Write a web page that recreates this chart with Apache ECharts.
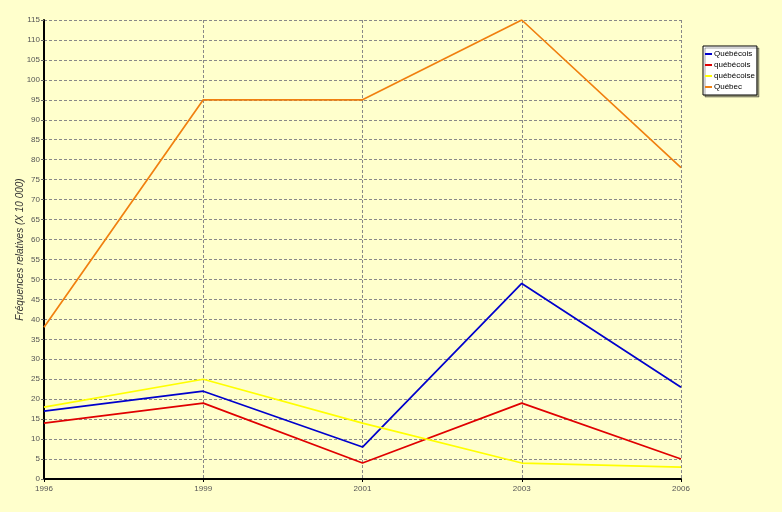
<!DOCTYPE html>
<html><head><meta charset="utf-8">
<script src="https://cdn.jsdelivr.net/npm/echarts@6/dist/echarts.min.js"></script>
<style>html,body{margin:0;padding:0;background:#FFFFCC;}#c{width:782px;height:512px;}</style>
</head><body><div id="c"></div>
<script>
const categories = ['1996','1999','2001','2003','2006'];
const seriesNames = ['Québécois','québécois','québécoise','Québec'];
const valsQuebecoisCap = [17,22,8,49,23];
const valsQuebecois = [14,19,4,19,5];
const valsQuebecoise = [18,25,14,4,3];
const valsQuebec = [38,95,95,115,78];
const colors = ['#0000CC','#E00000','#FFFF00','#F08010'];
const dataSets = [valsQuebecoisCap, valsQuebecois, valsQuebecoise, valsQuebec];

const chart = echarts.init(document.getElementById('c'));
chart.setOption({
  backgroundColor:'#FFFFCC',
  animation:false,
  textStyle:{fontFamily:'Liberation Sans, Arial, sans-serif'},
  grid:{left:44,right:101,top:20,bottom:33,containLabel:false},
  legend:{
    orient:'vertical', left:703, top:46,
    backgroundColor:'#FFFFFF', borderColor:'#000', borderWidth:1,
    shadowColor:'rgba(0,0,0,0.35)', shadowOffsetX:2, shadowOffsetY:2, shadowBlur:0,
    padding:[4,2,4,2], itemGap:3, itemWidth:7, itemHeight:2, icon:'rect',
    textStyle:{fontSize:8,color:'#000',padding:[0,0,0,-3]},
    data:seriesNames
  },
  xAxis:{
    type:'category', data:categories, boundaryGap:false,
    axisLine:{lineStyle:{color:'#000',width:2}},
    axisTick:{show:true,length:3,lineStyle:{color:'#000'}},
    axisLabel:{fontSize:8,color:'#555',margin:6},
    splitLine:{show:true,lineStyle:{color:'#888',type:[3,2],width:1}}
  },
  yAxis:{
    type:'value', min:0, max:115, interval:5,
    name:'Fréquences relatives (X 10 000)', nameLocation:'middle', nameGap:19,
    nameMoveOverlap:false,
    nameTextStyle:{fontSize:10,fontStyle:'italic',color:'#333'},
    axisLine:{show:true,lineStyle:{color:'#000',width:2}},
    axisTick:{show:true,length:3,lineStyle:{color:'#666'}},
    axisLabel:{fontSize:8,color:'#555',margin:4},
    splitLine:{show:true,lineStyle:{color:'#888',type:[3,2],width:1}}
  },
  series: seriesNames.map((n,i)=>({
    name:n, type:'line', data:dataSets[i], showSymbol:false, symbol:'none',
    lineStyle:{color:colors[i],width:1.7}, itemStyle:{color:colors[i]}
  }))
});
</script></body></html>
